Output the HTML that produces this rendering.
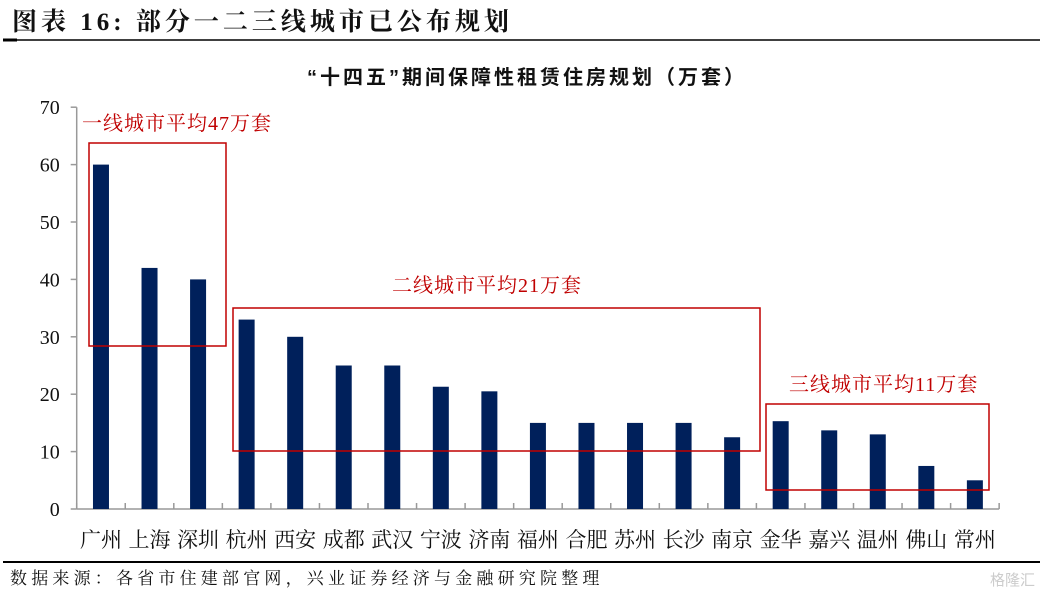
<!DOCTYPE html>
<html><head><meta charset="utf-8"><style>
body{margin:0;background:#fff;width:1044px;height:593px;overflow:hidden;font-family:"Liberation Serif","Noto Serif CJK SC",serif}
</style></head><body>
<svg width="1044" height="593" xmlns="http://www.w3.org/2000/svg">
<text x="12" y="30" font-size="25" font-weight="bold" fill="#111" letter-spacing="4">图表 16:  部分一二三线城市已公布规划</text>
<line x1="3" y1="40" x2="1040" y2="40" stroke="#000" stroke-width="1.5"/>
<line x1="3" y1="40" x2="17" y2="40" stroke="#000" stroke-width="3"/>
<text x="527" y="84" text-anchor="middle" font-size="20" font-weight="bold" letter-spacing="3" font-family="Liberation Sans,Noto Sans CJK SC,sans-serif" fill="#111">“十四五”期间保障性租赁住房规划（万套）</text>
<g id="axes"></g>
<g id="bars"></g>
<rect x="89" y="143" width="137" height="203" fill="none" stroke="#c00000" stroke-width="1.5"/>
<rect x="233" y="308" width="527" height="143" fill="none" stroke="#c00000" stroke-width="1.5"/>
<rect x="766" y="404" width="223" height="86" fill="none" stroke="#c00000" stroke-width="1.5"/>
<text x="82" y="130" font-size="20" letter-spacing="1" fill="#c00000">一线城市平均47万套</text>
<text x="392" y="292" font-size="20" letter-spacing="1" fill="#c00000">二线城市平均21万套</text>
<text x="789" y="391" font-size="20" letter-spacing="1" fill="#c00000">三线城市平均11万套</text>
<line x1="3" y1="562" x2="1040" y2="562" stroke="#000" stroke-width="2"/>
<text x="10" y="584" font-size="17" letter-spacing="4.2" fill="#111">数据来源：各省市住建部官网，兴业证券经济与金融研究院整理</text>
<text x="990" y="585" font-size="15" fill="#ccc" font-family="Liberation Sans,Noto Sans CJK SC,sans-serif">格隆汇</text>
</svg>
<script>
const categories=["广州","上海","深圳","杭州","西安","成都","武汉","宁波","济南","福州","合肥","苏州","长沙","南京","金华","嘉兴","温州","佛山","常州"];
const values=[60,42,40,33,30,25,25,21.3,20.5,15,15,15,15,12.5,15.3,13.7,13,7.5,5];
const yTicks=[0,10,20,30,40,50,60,70];
const NS="http://www.w3.org/2000/svg";
const x0=76.7,step=48.55,y0=509,ppu=5.74;
const xPos=i=>x0+step*(i+0.5);
const yPos=v=>y0-v*ppu;
const axes=document.getElementById('axes'),bars=document.getElementById('bars');
function mk(tag,attrs,parent){const e=document.createElementNS(NS,tag);for(const k in attrs)e.setAttribute(k,attrs[k]);parent.appendChild(e);return e;}
let yl=mk('line',{x1:x0,y1:yPos(70),x2:x0,y2:y0,stroke:'#999','stroke-width':1.5},axes);


let xl=mk('line',{x1:x0,y1:y0,x2:x0+step*categories.length,y2:y0,stroke:'#999','stroke-width':1.5},axes);


yTicks.forEach(t=>{
 mk('line',{x1:x0-6,y1:yPos(t),x2:x0,y2:yPos(t),stroke:'#999','stroke-width':1.5},axes);
 const tx=mk('text',{x:x0-17,y:yPos(t)+7,'text-anchor':'end','font-size':20,fill:'#111'},axes);
 tx.textContent=t;
 
 
});
for(let i=0;i<=categories.length;i++){
 mk('line',{x1:x0+step*i,y1:y0,x2:x0+step*i,y2:y0-6,stroke:'#999','stroke-width':1.5},axes);
}
categories.forEach((c,i)=>{
 const r=mk('rect',{x:xPos(i)-8,y:yPos(values[i]),width:16,height:values[i]*ppu,fill:'#00205b'},bars);
 
 
 const t=mk('text',{x:xPos(i),y:547,'text-anchor':'middle','font-size':21,fill:'#111','font-family':'Liberation Serif,Noto Serif CJK SC,serif'},axes);
 t.textContent=c;
 
 
});
</script>
</body></html>
